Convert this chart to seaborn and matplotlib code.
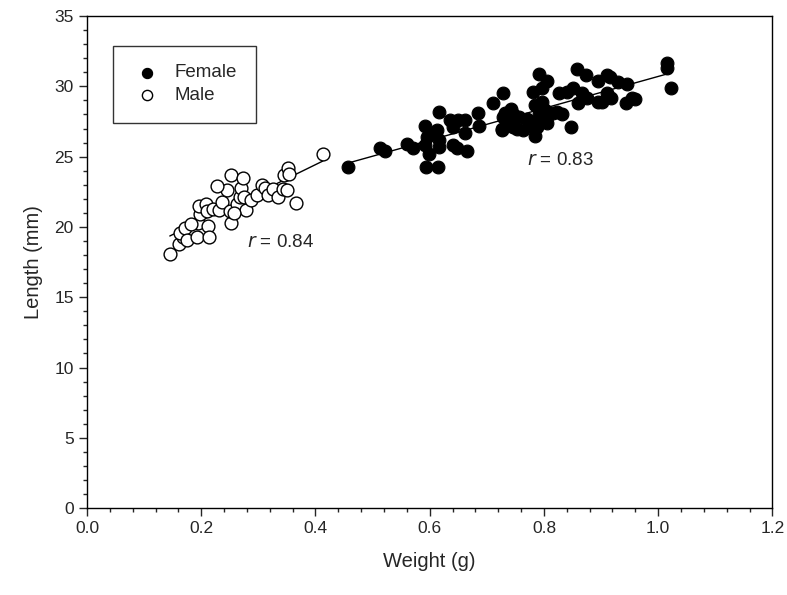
import numpy as np
import pandas as pd
import matplotlib
matplotlib.use("Agg")
import matplotlib.pyplot as plt
import seaborn as sns
from matplotlib.ticker import MultipleLocator

# male: weight (g), length (mm)
male_w = [0.145, 0.161, 0.168, 0.163, 0.171, 0.175, 0.192, 0.194, 0.198, 0.196,
          0.208, 0.210, 0.212, 0.213, 0.221, 0.231, 0.236, 0.245, 0.252, 0.252,
          0.250, 0.262, 0.268, 0.269, 0.273, 0.275, 0.278, 0.287, 0.297, 0.306,
          0.311, 0.317, 0.325, 0.334, 0.343, 0.345, 0.352, 0.353, 0.350, 0.366,
          0.413, 0.228, 0.182, 0.258]
male_l = [18.1, 18.8, 19.3, 19.6, 19.9, 19.1, 19.3, 20.3, 20.9, 21.5,
          21.6, 21.1, 20.1, 19.3, 21.3, 21.2, 21.8, 22.6, 23.7, 20.3,
          21.1, 21.6, 22.1, 22.8, 23.5, 22.1, 21.2, 21.9, 22.3, 23.0,
          22.8, 22.3, 22.7, 22.1, 22.7, 23.7, 24.2, 23.8, 22.6, 21.7,
          25.2, 22.9, 20.2, 21.0]

# female: weight (g), length (mm)
female_w = [0.457, 0.513, 0.521, 0.561, 0.570, 0.591, 0.595, 0.591, 0.598, 0.593,
            0.614, 0.609, 0.616, 0.612, 0.617, 0.616, 0.635, 0.640, 0.640, 0.647,
            0.649, 0.661, 0.661, 0.666, 0.684, 0.687, 0.710, 0.728, 0.726, 0.731,
            0.791, 0.805, 0.796, 0.780, 0.857, 0.873, 0.894, 0.910, 0.826, 0.840,
            0.850, 0.866, 0.859, 0.894, 0.743, 0.757, 0.770, 0.728, 0.726, 0.784,
            0.792, 0.806, 0.822, 0.831, 0.780, 0.787, 0.805, 0.848, 0.784, 0.745,
            0.763, 1.016, 1.015, 1.022, 0.915, 0.929, 0.945, 0.910, 0.918, 0.955,
            0.943, 0.901, 0.787, 0.801, 0.815, 0.875, 0.775, 0.752, 0.735, 0.796,
            0.745, 0.960]
female_l = [24.25, 25.6, 25.4, 25.9, 25.6, 27.2, 26.4, 25.8, 25.2, 24.25,
            24.25, 26.7, 28.2, 26.9, 26.2, 25.7, 27.6, 27.1, 25.8, 25.6,
            27.6, 27.6, 26.7, 25.4, 28.1, 27.2, 28.8, 29.5, 26.9, 28.1,
            30.9, 30.4, 29.9, 29.6, 31.2, 30.8, 30.4, 30.8, 29.5, 29.6,
            29.9, 29.5, 28.8, 28.9, 28.4, 27.8, 27.7, 27.8, 27.0, 28.7,
            28.0, 27.8, 28.2, 28.0, 27.5, 27.1, 27.4, 27.1, 26.5, 27.1,
            26.9, 31.65, 31.3, 29.9, 30.7, 30.3, 30.2, 29.5, 29.2, 29.2,
            28.8, 28.9, 27.3, 28.3, 28.1, 29.2, 27.2, 27.0, 27.5, 28.9,
            28.0, 29.1]

r_male = "0.84"
r_female = "0.83"

male = pd.DataFrame({"Weight": male_w, "Length": male_l})
female = pd.DataFrame({"Weight": female_w, "Length": female_l})

sns.set_style("ticks")
plt.rcParams["font.family"] = ["Liberation Sans", "DejaVu Sans"]

fig = plt.figure(figsize=(7.87, 5.95), dpi=100)
ax = fig.add_axes([0.1105, 0.146, 0.871, 0.827])

sns.scatterplot(data=female, x="Weight", y="Length", ax=ax, color="black",
                edgecolor="black", s=85, linewidth=0.8, label="Female", zorder=3)
sns.scatterplot(data=male, x="Weight", y="Length", ax=ax, color="white",
                edgecolor="black", s=85, linewidth=1.0, label="Male", zorder=3)
sns.regplot(data=female, x="Weight", y="Length", ax=ax, scatter=False, ci=None,
            truncate=True, line_kws={"color": "black", "lw": 1})
sns.regplot(data=male, x="Weight", y="Length", ax=ax, scatter=False, ci=None,
            truncate=True, line_kws={"color": "black", "lw": 1})

ax.text(0.28, 18.9, "$\\it{r}$ = " + r_male, fontsize=13.5, va="center")
ax.text(0.77, 24.7, "$\\it{r}$ = " + r_female, fontsize=13.5, va="center")

ax.set_xlim(0, 1.2)
ax.set_ylim(0, 35)
ax.xaxis.set_major_locator(MultipleLocator(0.2))
ax.xaxis.set_minor_locator(MultipleLocator(0.04))
ax.yaxis.set_major_locator(MultipleLocator(5))
ax.yaxis.set_minor_locator(MultipleLocator(1))
ax.set_xticklabels([f"{v:.1f}" for v in ax.get_xticks()])
ax.tick_params(which="major", length=6, width=1, labelsize=12.5, direction="out")
ax.tick_params(which="minor", length=3, width=1, direction="out")
for s in ax.spines.values():
    s.set_linewidth(1)
    s.set_color("black")
ax.set_xlabel("Weight (g)", fontsize=14.5, labelpad=11)
ax.set_ylabel("Length (mm)", fontsize=14.5, labelpad=8)

leg = ax.legend(loc="upper left", bbox_to_anchor=(0.038, 0.94), fontsize=13.5,
                frameon=True, fancybox=False, edgecolor="black", borderpad=1.0,
                handletextpad=0.7, handlelength=1.6, borderaxespad=0,
                markerscale=0.8, labelspacing=0.3)
leg.get_frame().set_linewidth(1)

plt.savefig("out.png", dpi=100)
